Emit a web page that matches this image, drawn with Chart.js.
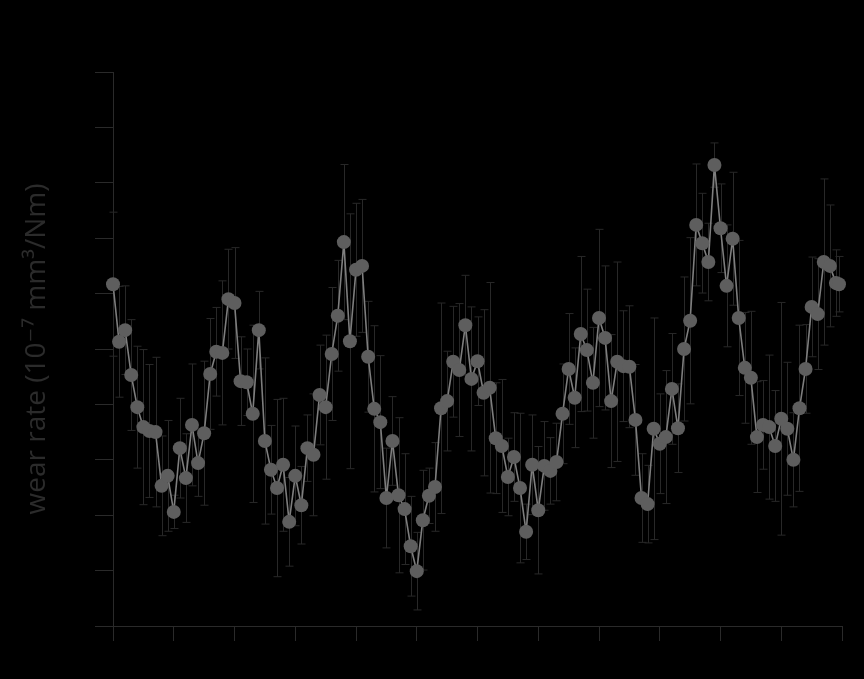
<!DOCTYPE html>
<html>
<head>
<meta charset="utf-8">
<script src="https://cdn.jsdelivr.net/npm/chart.js@4.4.1/dist/chart.umd.min.js"></script>
<style>
  html, body { margin: 0; padding: 0; background: #000; }
  #wrap { width: 864px; height: 679px; position: relative; }
</style>
</head>
<body>
<div id="wrap"><canvas id="c" width="864" height="679"></canvas></div>
<script>
// sampling positions along the x axis
const positions = [
  0.0,0.1,0.2,0.3,0.4,0.5,0.6,0.7,0.8,0.9,
  1.0,1.1,1.2,1.3,1.4,1.5,1.6,1.7,1.8,1.9,
  2.0,2.1,2.2,2.3,2.4,2.5,2.6,2.7,2.8,2.9,
  3.0,3.1,3.2,3.3,3.4,3.5,3.6,3.7,3.8,3.9,
  4.0,4.1,4.2,4.3,4.4,4.5,4.6,4.7,4.8,4.9,
  5.0,5.1,5.2,5.3,5.4,5.5,5.6,5.7,5.8,5.9,
  6.0,6.1,6.2,6.3,6.4,6.5,6.6,6.7,6.8,6.9,
  7.0,7.1,7.2,7.3,7.4,7.5,7.6,7.7,7.8,7.9,
  8.0,8.1,8.2,8.3,8.4,8.5,8.6,8.7,8.8,8.9,
  9.0,9.1,9.2,9.3,9.4,9.5,9.6,9.7,9.8,9.9,
  10.0,10.1,10.2,10.3,10.4,10.5,10.6,10.7,10.8,10.9,
  11.0,11.1,11.2,11.3,11.4,11.5,11.6,11.7,11.8,11.9,
  11.95
];

// mean wear rate at each position
const wearRate = [
  6.17,5.13,5.34,4.53,3.95,3.59,3.52,3.50,2.53,2.71,
  2.06,3.21,2.67,3.63,2.94,3.48,4.55,4.95,4.93,5.90,
  5.83,4.42,4.40,3.83,5.34,3.34,2.82,2.49,2.91,1.88,
  2.71,2.18,3.21,3.09,4.17,3.95,4.91,5.60,6.93,5.14,
  6.43,6.50,4.86,3.92,3.68,2.31,3.34,2.36,2.11,1.44,
  0.99,1.91,2.35,2.51,3.93,4.06,4.77,4.62,5.43,4.46,
  4.78,4.21,4.30,3.39,3.25,2.69,3.05,2.49,1.70,2.91,
  2.09,2.89,2.80,2.96,3.83,4.64,4.12,5.27,4.98,4.39,
  5.56,5.20,4.06,4.77,4.69,4.68,3.72,2.31,2.20,3.56,
  3.29,3.41,4.28,3.57,5.00,5.51,7.24,6.91,6.57,8.32,
  7.18,6.14,6.99,5.56,4.66,4.48,3.41,3.63,3.59,3.25,
  3.74,3.56,3.00,3.93,4.64,5.76,5.63,6.57,6.50,6.19,
  6.17
];

// standard deviation of each measurement
const wearError = [
  1.30,1.00,0.80,1.00,1.10,1.40,1.20,1.35,0.90,1.00,
  0.30,0.90,0.80,1.10,0.60,1.30,1.00,0.80,1.30,0.90,
  1.00,0.80,0.60,1.60,0.70,1.50,0.80,1.60,1.20,0.80,
  0.90,0.70,0.60,1.10,0.90,1.30,1.20,1.00,1.40,2.30,
  1.20,1.20,1.00,1.50,1.20,0.90,0.80,1.40,1.00,0.90,
  0.70,0.90,0.50,0.80,1.90,0.90,1.00,1.20,0.90,1.30,
  0.80,1.50,1.90,1.00,1.20,0.70,0.80,1.35,0.50,0.90,
  1.15,0.80,0.60,0.70,0.90,1.00,0.90,1.40,1.10,1.00,
  1.60,1.30,1.20,1.80,1.00,1.10,1.00,0.80,0.70,2.00,
  0.90,1.20,1.00,0.80,1.30,1.50,1.10,0.90,0.70,0.40,
  0.80,1.10,1.20,1.40,1.00,1.20,1.00,0.80,1.30,1.00,
  2.10,1.20,0.85,1.50,0.80,0.90,1.00,1.50,1.10,0.60,
  0.50
];

const yTitle = 'wear rate (10\u207B\u2077 mm\u00B3/Nm)';

const axisColor = '#2a2a2a';

// vertical whiskers with caps, drawn underneath the line and markers
const errorBars = {
  id: 'errorBars',
  beforeDatasetsDraw(chart) {
    const ctx = chart.ctx;
    const xs = chart.scales.x, ys = chart.scales.y;
    ctx.save();
    ctx.strokeStyle = '#282828';
    ctx.lineWidth = 1;
    const cap = 4;
    for (let i = 0; i < positions.length; i++) {
      const px = Math.round(xs.getPixelForValue(positions[i])) + 0.5;
      const top = ys.getPixelForValue(wearRate[i] + wearError[i]);
      const bot = ys.getPixelForValue(wearRate[i] - wearError[i]);
      ctx.beginPath();
      ctx.moveTo(px, top); ctx.lineTo(px, bot);
      ctx.moveTo(px - cap, top); ctx.lineTo(px + cap, top);
      ctx.moveTo(px - cap, bot); ctx.lineTo(px + cap, bot);
      ctx.stroke();
    }
    ctx.restore();
  }
};

const bg = {
  id: 'bg',
  beforeDraw(chart) {
    const ctx = chart.ctx;
    ctx.save();
    ctx.fillStyle = '#000';
    ctx.fillRect(0, 0, chart.width, chart.height);
    ctx.restore();
  }
};

new Chart(document.getElementById('c'), {
  type: 'scatter',
  data: {
    datasets: [{
      data: positions.map((x, i) => ({ x: x, y: wearRate[i] })),
      showLine: true,
      borderColor: '#7e7e7e',
      borderWidth: 1.6,
      pointRadius: 7,
      pointBackgroundColor: '#5e5e5e',
      pointBorderColor: '#5e5e5e',
      pointBorderWidth: 0,
      clip: false
    }]
  },
  options: {
    responsive: false,
    animation: false,
    devicePixelRatio: 1,
    layout: { padding: { left: 0, top: 72, right: 22, bottom: 0 } },
    plugins: { legend: { display: false }, tooltip: { enabled: false } },
    scales: {
      x: {
        type: 'linear',
        min: 0, max: 12,
        ticks: { display: false, stepSize: 1 },
        grid: { drawOnChartArea: false, drawTicks: true, tickLength: 15, color: axisColor, tickColor: axisColor },
        border: { color: axisColor, width: 1 },
        afterFit(s) { s.height = 53; }
      },
      y: {
        min: 0, max: 10,
        ticks: { display: false, stepSize: 1 },
        grid: { drawOnChartArea: false, drawTicks: true, tickLength: 18, color: axisColor, tickColor: axisColor },
        border: { color: axisColor, width: 1 },
        title: {
          display: true,
          text: yTitle,
          color: '#2b2b2b',
          font: { family: '"Open Sans", "DejaVu Sans", sans-serif', size: 28 },
          padding: { top: 20, bottom: 0 }
        },
        afterFit(s) { s.width = 113; }
      }
    }
  },
  plugins: [bg, errorBars]
});
</script>
</body>
</html>
